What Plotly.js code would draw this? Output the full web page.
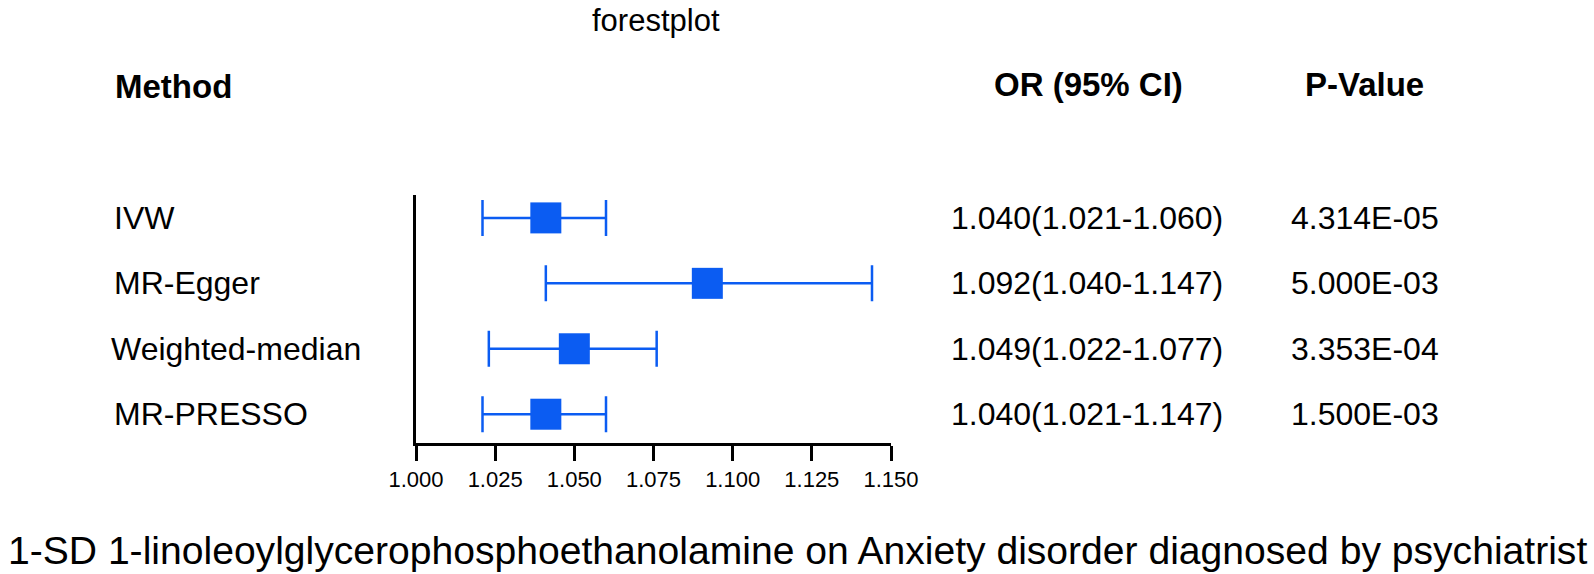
<!DOCTYPE html>
<html>
<head>
<meta charset="utf-8">
<script src="https://cdn.plot.ly/plotly-3.0.1.min.js"></script>
<style>
html, body { margin: 0; padding: 0; background: #ffffff; }
#chart { width: 1594px; height: 574px; }
</style>
</head>
<body>
<div id="chart"></div>
<script>
// ---- data ----
const methods = ['IVW', 'MR-Egger', 'Weighted-median', 'MR-PRESSO'];
const orEst   = [1.041, 1.092, 1.050, 1.041];
const ciLow   = [1.021, 1.041, 1.023, 1.021];
const ciHigh  = [1.060, 1.144, 1.076, 1.060];
const orText  = ['1.040(1.021-1.060)', '1.092(1.040-1.147)', '1.049(1.022-1.077)', '1.040(1.021-1.147)'];
const pText   = ['4.314E-05', '5.000E-03', '3.353E-04', '1.500E-03'];
const headers = ['Method', 'OR (95% CI)', 'P-Value'];
const topTitle = 'forestplot';
const bottomTitle = '1-SD 1-linoleoylglycerophosphoethanolamine on Anxiety disorder diagnosed by psychiatrist';
const tickVals = [1.000, 1.025, 1.050, 1.075, 1.100, 1.125, 1.150];

// ---- layout helpers ----
const W = 1594, H = 574;
const L = 416, R = 891, T = 195, B = 443;
const px = x => (x - L) / (R - L);
const py = y => (B - y) / (B - T);
const rowY = methods.map((m, i) => methods.length - 1 - i);

const BLUE = '#0b5cf2';
const FONT = 'Liberation Sans, Arial, Helvetica, sans-serif';

const trace = {
  type: 'scatter',
  mode: 'markers',
  x: orEst,
  y: rowY,
  marker: { symbol: 'square', size: 31, color: BLUE, line: { width: 0 } },
  error_x: {
    type: 'data',
    symmetric: false,
    array: ciHigh.map((h, i) => h - orEst[i]),
    arrayminus: ciLow.map((l, i) => orEst[i] - l),
    color: BLUE,
    thickness: 2.5,
    width: 18
  },
  hoverinfo: 'skip',
  showlegend: false
};

const ann = [];
// top title
ann.push({ text: topTitle, xref: 'paper', yref: 'paper', x: px(656), y: py(20),
  xanchor: 'center', yanchor: 'middle', showarrow: false,
  font: { family: FONT, size: 31, color: '#000' } });
// headers
ann.push({ text: '<b>' + headers[0] + '</b>', xref: 'paper', yref: 'paper', x: px(113), y: py(86),
  xanchor: 'left', yanchor: 'middle', showarrow: false,
  font: { family: FONT, size: 33, color: '#000' } });
ann.push({ text: '<b>' + headers[1] + '</b>', xref: 'paper', yref: 'paper', x: px(1088), y: py(84),
  xanchor: 'center', yanchor: 'middle', showarrow: false,
  font: { family: FONT, size: 33, color: '#000' } });
ann.push({ text: '<b>' + headers[2] + '</b>', xref: 'paper', yref: 'paper', x: px(1364), y: py(84),
  xanchor: 'center', yanchor: 'middle', showarrow: false,
  font: { family: FONT, size: 33, color: '#000' } });
// rows
methods.forEach((m, i) => {
  ann.push({ text: m, xref: 'paper', yref: 'y', x: px(m === 'Weighted-median' ? 109 : 112), y: rowY[i],
    xanchor: 'left', yanchor: 'middle', showarrow: false,
    font: { family: FONT, size: 32, color: '#000' } });
  ann.push({ text: orText[i], xref: 'paper', yref: 'y', x: px(1087), y: rowY[i],
    xanchor: 'center', yanchor: 'middle', showarrow: false,
    font: { family: FONT, size: 32, color: '#000' } });
  ann.push({ text: pText[i], xref: 'paper', yref: 'y', x: px(1365), y: rowY[i],
    xanchor: 'center', yanchor: 'middle', showarrow: false,
    font: { family: FONT, size: 32, color: '#000' } });
});
// bottom title
ann.push({ text: bottomTitle, xref: 'paper', yref: 'paper', x: px(797), y: py(573),
  xanchor: 'center', yanchor: 'bottom', showarrow: false, borderpad: 0,
  font: { family: FONT, size: 39.1, color: '#000' } });

const layout = {
  width: W, height: H,
  margin: { l: L, r: W - R, t: T, b: H - B, pad: 0 },
  paper_bgcolor: '#ffffff',
  plot_bgcolor: '#ffffff',
  showlegend: false,
  xaxis: {
    range: [1.0, 1.15],
    tickvals: tickVals,
    ticktext: tickVals.map(v => v.toFixed(3)),
    ticks: 'outside', ticklen: 15, tickwidth: 3, tickcolor: '#000',
    showline: true, linewidth: 3, linecolor: '#000',
    showgrid: false, zeroline: false,
    tickfont: { family: FONT, size: 22, color: '#000' },
    fixedrange: true
  },
  yaxis: {
    range: [-0.44, 3.35],
    showline: true, linewidth: 3, linecolor: '#000',
    showticklabels: false, ticks: '',
    showgrid: false, zeroline: false,
    fixedrange: true
  },
  annotations: ann
};

Plotly.newPlot('chart', [trace], layout, { displayModeBar: false, staticPlot: true });
</script>
</body>
</html>
